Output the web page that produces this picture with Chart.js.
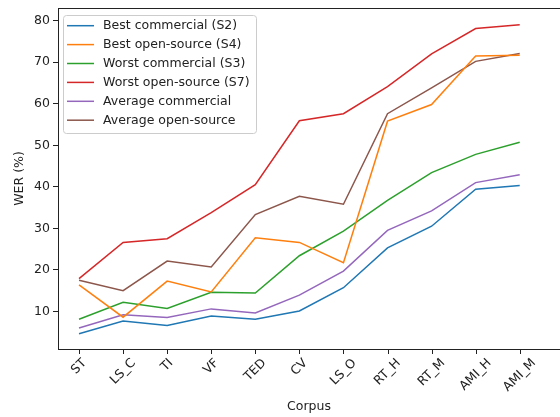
<!DOCTYPE html>
<html>
<head>
<meta charset="utf-8">
<script src="https://cdn.jsdelivr.net/npm/chart.js@4/dist/chart.umd.min.js"></script>
<style>
  html, body { margin: 0; padding: 0; background: #fff; overflow: hidden; }
  #chart { display: block; }
</style>
</head>
<body>
<canvas id="chart" width="560" height="417"></canvas>
<script>
const corpora = ['ST', 'LS_C', 'TI', 'VF', 'TED', 'CV', 'LS_O', 'RT_H', 'RT_M', 'AMI_H', 'AMI_M'];

const bestCommercial = [4.6, 7.7, 6.6, 8.9, 8.1, 10.1, 15.7, 25.3, 30.5, 39.4, 40.3];
const bestOpenSource = [16.4, 8.6, 17.3, 14.7, 27.7, 26.6, 21.7, 55.8, 59.8, 71.5, 71.7];
const worstCommercial = [8.1, 12.2, 10.7, 14.6, 14.4, 23.4, 29.3, 36.7, 43.4, 47.8, 50.7];
const worstOpenSource = [17.9, 26.6, 27.5, 33.8, 40.5, 55.9, 57.6, 64.1, 72.0, 78.1, 79.0];
const avgCommercial = [6.0, 9.2, 8.5, 10.6, 9.6, 13.9, 19.7, 29.5, 34.2, 41.0, 42.9];
const avgOpenSource = [17.5, 15.0, 22.1, 20.7, 33.3, 37.7, 35.8, 57.6, 63.8, 70.2, 72.1];

const yTicks = [10, 20, 30, 40, 50, 60, 70, 80];

const font = { family: 'DejaVu Sans', size: 12.5 };
const ink = '#222';

const toPoints = (values) => values.map((y, x) => ({ x, y }));

const series = [
  ['Best commercial (S2)', bestCommercial, '#1f77b4'],
  ['Best open-source (S4)', bestOpenSource, '#ff7f0e'],
  ['Worst commercial (S3)', worstCommercial, '#2ca02c'],
  ['Worst open-source (S7)', worstOpenSource, '#d62728'],
  ['Average commercial', avgCommercial, '#9467bd'],
  ['Average open-source', avgOpenSource, '#8c564b'],
];

// top spine, x ticks with centred 45° labels (matplotlib style) and the legend box
const frameAndLegend = {
  id: 'frameAndLegend',
  afterDraw(chart) {
    const { ctx, chartArea: a } = chart;
    const xScale = chart.scales.x;
    ctx.save();
    ctx.strokeStyle = ink;
    ctx.lineWidth = 1;
    ctx.beginPath();
    ctx.moveTo(a.left, a.top + 0.5);
    ctx.lineTo(a.right, a.top + 0.5);
    corpora.forEach((_, i) => {
      const x = Math.round(xScale.getPixelForValue(i)) + 0.5;
      ctx.moveTo(x, a.bottom);
      ctx.lineTo(x, a.bottom + 5);
    });
    ctx.stroke();

    ctx.font = '12.5px "DejaVu Sans"';
    ctx.fillStyle = ink;
    ctx.textAlign = 'center';
    ctx.textBaseline = 'middle';
    corpora.forEach((label, i) => {
      const x = xScale.getPixelForValue(i);
      const w = ctx.measureText(label).width;
      const cy = a.bottom + 7 + (w + 14.5) * 0.3536;
      ctx.save();
      ctx.translate(x, cy);
      ctx.rotate(-Math.PI / 4);
      ctx.fillText(label, 0, 0);
      ctx.restore();
    });

    const bx = 63.5, by = 15.5, bw = 193, bh = 118;
    ctx.beginPath();
    ctx.roundRect(bx, by, bw, bh, 3);
    ctx.fillStyle = 'rgba(255,255,255,0.8)';
    ctx.fill();
    ctx.strokeStyle = '#cccccc';
    ctx.stroke();

    ctx.textAlign = 'left';
    chart.data.datasets.forEach((ds, i) => {
      const y = 25.7 + i * 18.9;
      ctx.strokeStyle = ds.borderColor;
      ctx.lineWidth = 1.5;
      ctx.beginPath();
      ctx.moveTo(67, y);
      ctx.lineTo(94, y);
      ctx.stroke();
      ctx.fillStyle = ink;
      ctx.fillText(ds.label, 103, y + 0.5);
    });
    ctx.restore();
  }
};

new Chart(document.getElementById('chart'), {
  type: 'line',
  data: {
    datasets: series.map(([label, values, color]) => ({
      label,
      data: toPoints(values),
      borderColor: color,
      backgroundColor: color,
      borderWidth: 1.5,
      pointRadius: 0,
      tension: 0,
      fill: false,
    }))
  },
  plugins: [frameAndLegend],
  options: {
    responsive: false,
    animation: false,
    devicePixelRatio: 1,
    layout: { padding: { top: 8, right: 0, left: 0, bottom: 0 } },
    plugins: { legend: { display: false }, tooltip: { enabled: false } },
    scales: {
      x: {
        type: 'linear',
        min: -0.477,
        max: 10.914,
        afterBuildTicks: (scale) => { scale.ticks = corpora.map((_, i) => ({ value: i })); },
        afterFit: (scale) => {
          scale.height = 68;
          scale.paddingLeft = 0;
          scale.paddingRight = 0;
        },
        grid: { display: false },
        border: { display: true, color: ink, width: 1 },
        ticks: { display: false },
        title: { display: true, text: 'Corpus', color: ink, font, padding: { top: 0, bottom: 3 } },
      },
      y: {
        min: 0.94,
        max: 83.05,
        afterBuildTicks: (scale) => { scale.ticks = yTicks.map((value) => ({ value })); },
        afterFit: (scale) => {
          scale.width = 58;
          scale.paddingTop = 0;
          scale.paddingBottom = 0;
        },
        grid: { drawOnChartArea: false, tickLength: 5, color: ink },
        border: { color: ink, width: 1 },
        ticks: { padding: 3, color: ink, font },
        title: { display: true, text: 'WER (%)', color: ink, font, padding: { top: 12.5, bottom: 0 } },
      }
    }
  }
});
</script>
</body>
</html>
